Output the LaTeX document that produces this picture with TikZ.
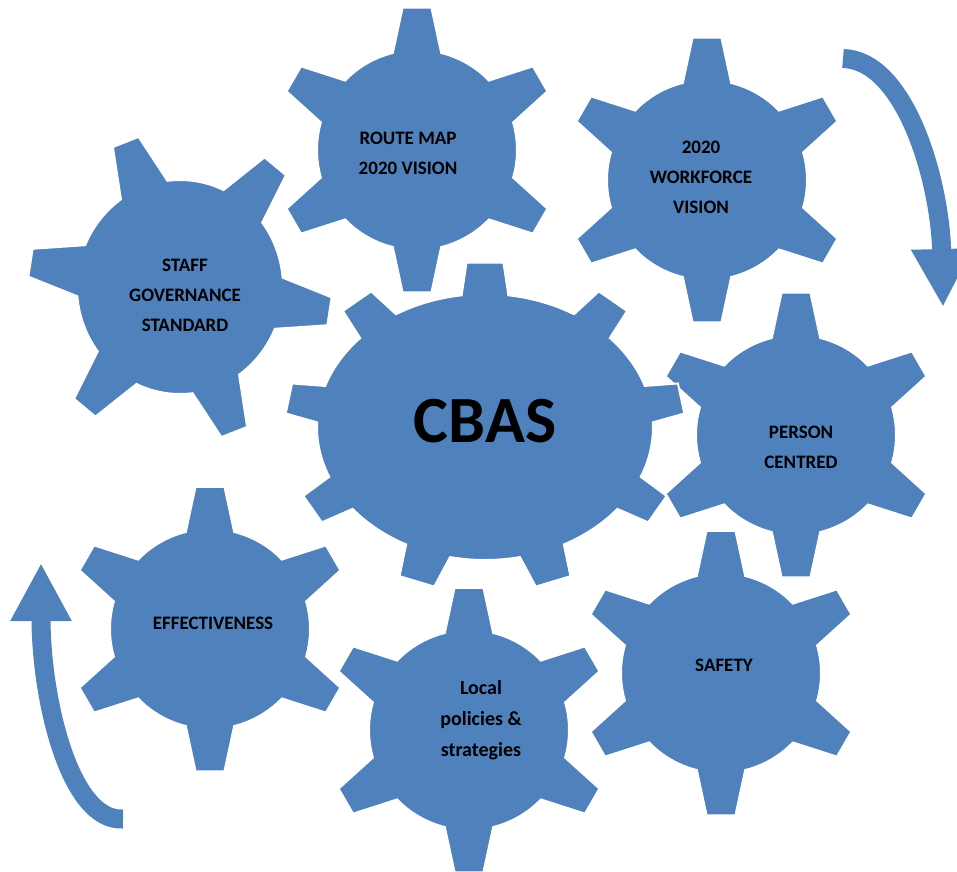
\documentclass[tikz,border=0pt]{standalone}
\usepackage{fontspec}
\setmainfont{Carlito}
\usetikzlibrary{arrows.meta}

\definecolor{gearblue}{RGB}{79,129,189}

\tikzset{
	gearfill/.style = {fill = gearblue, draw = white, line width = 2pt},
	gearlabel/.style = {font = \bfseries\fontsize{19}{30}\selectfont, align = center, text = black, inner sep = 0pt},
	cbaslabel/.style = {font = \bfseries\fontsize{66}{70}\selectfont, text = black, inner sep = 0pt},
	turnarrow/.style = {draw = gearblue, line width = 19pt, -{Triangle[width = 57pt, length = 58pt]}}
}

% tooth half widths (degrees) at the body and at the tip
\newcommand{\toothbase}{14}
\newcommand{\toothtip}{5.8}
% #1 centre, #2 x radius, #3 y radius, #4 tooth height, #5 teeth, #6 first tooth angle
\newcommand{\gear}[6]{%
	\path[gearfill, shift = {(#1)}] ({#2*cos(#6-\toothbase)}, {#3*sin(#6-\toothbase)})
		\foreach \k [evaluate = \k as \tang using #6+(\k-1)*360/#5] in {1,...,#5} {
			-- ({(#2+#4)*cos(\tang-\toothtip)}, {(#3+#4)*sin(\tang-\toothtip)})
			-- ({(#2+#4)*cos(\tang+\toothtip)}, {(#3+#4)*sin(\tang+\toothtip)})
			-- ({#2*cos(\tang+\toothbase)}, {#3*sin(\tang+\toothbase)})
			arc[start angle = \tang+\toothbase, end angle = \tang+360/#5-\toothbase, x radius = #2, y radius = #3]
		} -- cycle;
}

\begin{document}
\begin{tikzpicture}[x = 1pt, y = 1pt]

	\fill[white] (0, 0) rectangle (957, -871);
	\useasboundingbox (0, 0) rectangle (957, -871);

	% small gears
	\gear{417, -150}{100}{100}{43}{6}{90}
	\gear{707, -180}{100}{100}{43}{6}{90}
	\gear{796, -435}{100}{100}{43}{6}{90}
	\gear{210, -629}{100}{100}{43}{6}{90}
	\gear{469, -730}{100}{100}{43}{6}{90}
	\gear{721, -673}{100}{100}{43}{6}{90}

	\renewcommand{\toothtip}{5.2}
	\gear{180, -287}{103}{107}{49}{6}{-9}

	% centre gear
	\renewcommand{\toothbase}{8}
	\renewcommand{\toothtip}{5.3}
	\gear{485, -427}{168}{133}{32}{9}{90}

	\node[gearlabel] (routemap) at (408, -153) {ROUTE MAP\\2020 VISION};
	\node[gearlabel] (workforce) at (701, -177) {2020\\WORKFORCE\\VISION};
	\node[gearlabel] (staff) at (185, -295) {STAFF\\GOVERNANCE\\STANDARD};
	\node[gearlabel] (person) at (801, -447) {PERSON\\CENTRED};
	\node[gearlabel] (effective) at (213, -623) {EFFECTIVENESS};
	\node[gearlabel, font = \bfseries\fontsize{20}{31}\selectfont] (local) at (481, -720) {Local\\policies \&\\strategies};
	\node[gearlabel] (safety) at (724, -665) {SAFETY};
	\node[cbaslabel] (cbas) at (485, -421) {CBAS};

	% turning arrows
	\coordinate (rtail) at (843, -58.5);
	\coordinate (rtip) at (943, -307);
	\coordinate (ltail) at (123, -819);
	\coordinate (ltip) at (41, -563);

	\draw[turnarrow] (rtail) .. controls (905, -60) and (940, -180) .. (rtip);
	\draw[turnarrow] (ltail) .. controls (70, -822) and (41, -700) .. (ltip);

\end{tikzpicture}
\end{document}
